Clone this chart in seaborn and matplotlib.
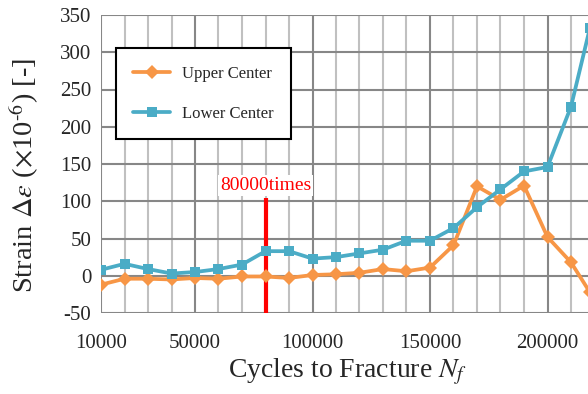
import numpy as np
import pandas as pd
import matplotlib
matplotlib.use("Agg")
import matplotlib.pyplot as plt
from matplotlib.ticker import FixedLocator, MultipleLocator
import seaborn as sns

cycles = [10000, 20000, 30000, 40000, 50000, 60000, 70000, 80000, 90000, 100000,
          110000, 120000, 130000, 140000, 150000, 160000, 170000, 180000, 190000,
          200000, 210000, 218000]
upper_center = [-12, -4, -4, -5, -3, -4, -1, -1, -3, 1, 2, 4, 9, 6, 11, 41, 120,
                102, 121, 52, 18, -22]
lower_center = [8, 16, 9, 3, 5, 9, 15, 33, 33, 23, 25, 30, 35, 47, 47, 64, 92,
                116, 140, 146, 227, 332]
series_names = ["Upper Center", "Lower Center"]
x_ticks = [10000, 50000, 100000, 150000, 200000]
y_ticks = [-50, 0, 50, 100, 150, 200, 250, 300, 350]
marker_x = 80000
marker_text = "80000times"

df = pd.DataFrame({
    "cycles": cycles * 2,
    "strain": upper_center + lower_center,
    "series": [series_names[0]] * len(cycles) + [series_names[1]] * len(cycles),
})

sns.set_style("white")
plt.rcParams["font.family"] = ["Liberation Serif", "DejaVu Serif"]
plt.rcParams["mathtext.fontset"] = "stix"

fig = plt.figure(figsize=(5.88, 3.94), dpi=100)
ax = fig.add_axes([101 / 588, 81 / 394, 493.5 / 588, 298 / 394])

palette = {"Upper Center": "#F79646", "Lower Center": "#4BACC6"}
markers = {"Upper Center": "D", "Lower Center": "s"}
sns.lineplot(data=df, x="cycles", y="strain", hue="series", style="series",
             palette=palette, markers=markers, dashes=False, linewidth=2.7,
             markersize=7.5, markeredgewidth=0, ax=ax, zorder=3)

ax.set_xlim(10000, 220000)
ax.set_ylim(-50, 350)
ax.xaxis.set_major_locator(FixedLocator(x_ticks))
ax.xaxis.set_minor_locator(MultipleLocator(10000))
ax.yaxis.set_major_locator(FixedLocator(y_ticks))
ax.set_xticklabels([str(v) for v in x_ticks])
ax.set_yticklabels([str(v) for v in y_ticks])
ax.tick_params(axis="both", which="both", length=0, labelsize=15)
ax.tick_params(axis="y", pad=7)
ax.tick_params(axis="x", pad=15)

ax.set_axisbelow(True)
ax.grid(True, which="major", color="#878787", linewidth=1.5)
ax.grid(True, which="minor", axis="x", color="#C0C0C0", linewidth=1.5)
for s in ax.spines.values():
    s.set_visible(False)

ax.set_xlabel(r"Cycles to Fracture $N_f$", fontsize=20, labelpad=3)
ax.set_ylabel(r"Strain $\mathit{Δ}\varepsilon$ ($\times$10$^{\text{-}6}$) [-]",
              fontsize=20.5)
ax.yaxis.set_label_coords(-0.122, 0.46)

ax.plot([marker_x, marker_x], [-50, 104], color="red", linewidth=3, zorder=2.5,
        solid_capstyle="butt")
ax.text(marker_x, 121, marker_text, color="red", fontsize=14, ha="center", va="center",
        bbox=dict(facecolor="white", edgecolor="none", pad=1.5), zorder=2.6)

handles, labels = ax.get_legend_handles_labels()
leg = ax.legend(handles, labels, loc="upper left", bbox_to_anchor=(0.030, 0.889),
                frameon=True, fancybox=False, edgecolor="black", fontsize=12,
                borderpad=1.05, labelspacing=1.45, handlelength=2.2,
                handletextpad=0.7, borderaxespad=0)
leg.get_frame().set_linewidth(1.5)
leg.get_frame().set_alpha(1)

fig.savefig("out.png", dpi=100)
